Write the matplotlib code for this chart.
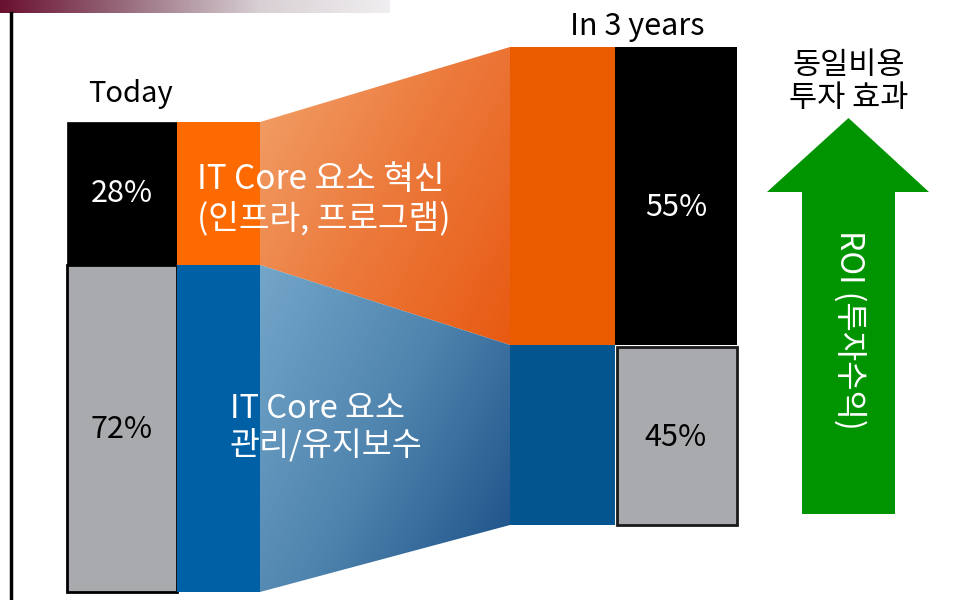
import numpy as np
import matplotlib
matplotlib.use("Agg")
import matplotlib.pyplot as plt
from matplotlib.patches import Polygon
from matplotlib.colors import LinearSegmentedColormap

plt.rcParams['font.family'] = ['Noto Sans CJK KR', 'DejaVu Sans']

# ---- data ----
periods = ["Today", "In 3 years"]
share_labels_today = ["28%", "72%"]      # innovation / maintenance share today
share_labels_future = ["55%", "45%"]     # innovation / maintenance share in 3 years
# segment heights as drawn in the reference (pixel units, top segment first)
today_heights = [143, 327]
future_heights = [298, 180]
today_base = 8        # distance of today's bar bottom from figure bottom
future_base = 75
innovation_label = "IT Core 요소 혁신\n(인프라, 프로그램)"
maintenance_label = "IT Core 요소\n관리/유지보수"
arrow_title = "동일비용\n투자 효과"
arrow_label = "ROI (투자수익)"

W, H = 956, 600
fig = plt.figure(figsize=(W / 100, H / 100), dpi=100)
ax = fig.add_axes([0, 0, 1, 1])
ax.set_xlim(0, W)
ax.set_ylim(0, H)
ax.axis('off')

FS = 22

# top banner gradient
grad = np.linspace(0, 1, 400).reshape(1, -1)
banner_cmap = LinearSegmentedColormap.from_list("b", ["#6a1030", "#9a7080", "#d8d0d4", "#f0eef0"])
ax.imshow(grad, extent=[0, 390, H - 13, H], aspect='auto', cmap=banner_cmap, zorder=1)
# left vertical rule
ax.plot([11, 11], [0, H - 13], color='black', lw=2.5, zorder=2)

# bar x positions (left edge, width)
bx_today_grey = (67, 110)
bx_today_col = (177, 83)
bx_fut_col = (510, 105)
bx_fut_grey = (615, 122)

# today bars
t_mid = today_base + today_heights[1]
t_top = t_mid + today_heights[0]
ax.bar(bx_today_grey[0], today_heights[1], width=bx_today_grey[1], bottom=today_base, align='edge',
       color='#a9aaae', edgecolor='black', lw=2, zorder=3)
ax.bar(bx_today_grey[0], today_heights[0], width=bx_today_grey[1], bottom=t_mid, align='edge',
       color='black', edgecolor='black', lw=0.5, zorder=3)
ax.bar(bx_today_col[0], today_heights[1], width=bx_today_col[1], bottom=today_base, align='edge',
       color='#0060a6', lw=0, zorder=3)
ax.bar(bx_today_col[0], today_heights[0], width=bx_today_col[1], bottom=t_mid, align='edge',
       color='#fd6a02', lw=0, zorder=3)

# future bars
f_mid = future_base + future_heights[1]
f_top = f_mid + future_heights[0]
ax.bar(bx_fut_col[0], future_heights[1], width=bx_fut_col[1], bottom=future_base, align='edge',
       color='#02558e', lw=0, zorder=3)
ax.bar(bx_fut_col[0], future_heights[0], width=bx_fut_col[1], bottom=f_mid, align='edge',
       color='#ea5b00', lw=0, zorder=3)
ax.bar(bx_fut_grey[0] + 2, future_heights[1] - 2, width=bx_fut_grey[1] - 2, bottom=future_base, align='edge',
       color='#a9aaae', edgecolor='#1a1a1a', lw=2, zorder=3)
ax.bar(bx_fut_grey[0], future_heights[0], width=bx_fut_grey[1], bottom=f_mid, align='edge',
       color='black', lw=0, zorder=3)

# gradient trapezoids (light at top-left, dark at bottom-right)
xl = bx_today_col[0] + bx_today_col[1]
xr = bx_fut_col[0]
yy, xx = np.mgrid[0:1:200j, 0:1:200j]
g = xx * 0.6 + yy * 0.4
orange_cmap = LinearSegmentedColormap.from_list("o", ["#f2a36c", "#ec7a3c", "#e85a12"])
blue_cmap = LinearSegmentedColormap.from_list("bl", ["#74a6c9", "#4f84ae", "#1a4e86"])

top_poly = Polygon([[xl, t_top], [xr, f_top], [xr, f_mid], [xl, t_mid]], closed=True,
                   facecolor='none', edgecolor='none', transform=ax.transData)
ax.add_patch(top_poly)
im1 = ax.imshow(g, extent=[xl, xr, min(t_mid, f_mid), max(t_top, f_top)], origin='upper',
                cmap=orange_cmap, aspect='auto', zorder=2.5)
im1.set_clip_path(top_poly)

bot_poly = Polygon([[xl, t_mid], [xr, f_mid], [xr, future_base], [xl, today_base]], closed=True,
                   facecolor='none', edgecolor='none', transform=ax.transData)
ax.add_patch(bot_poly)
im2 = ax.imshow(g, extent=[xl, xr, today_base, max(t_mid, f_mid)], origin='upper',
                cmap=blue_cmap, aspect='auto', zorder=2.5)
im2.set_clip_path(bot_poly)

# labels
ax.text(131, H - 94, periods[0], ha='center', va='center', fontsize=FS - 1, color='black', zorder=5)
ax.text(637, H - 27, periods[1], ha='center', va='center', fontsize=FS, color='black', zorder=5)
ax.text(122, H - 193, share_labels_today[0], ha='center', va='center', fontsize=FS, color='white', zorder=5)
ax.text(122, H - 430, share_labels_today[1], ha='center', va='center', fontsize=FS, color='black', zorder=5)
ax.text(676, H - 207, share_labels_future[0], ha='center', va='center', fontsize=FS, color='white', zorder=5)
ax.text(676, H - 437, share_labels_future[1], ha='center', va='center', fontsize=FS, color='black', zorder=5)
ax.text(197, H - 199, innovation_label, ha='left', va='center', fontsize=FS + 2, color='white',
        linespacing=1.15, zorder=5)
ax.text(230, H - 427, maintenance_label, ha='left', va='center', fontsize=FS + 1.5, color='white',
        linespacing=1.1, zorder=5)

# green arrow
shaft_x0, shaft_x1 = 802, 895
shaft_bottom = H - 514
head_base = H - 192
tip = H - 118
cx = (shaft_x0 + shaft_x1) / 2
arrow = Polygon([[shaft_x0, shaft_bottom], [shaft_x1, shaft_bottom], [shaft_x1, head_base],
                 [929, head_base], [cx, tip], [767, head_base], [shaft_x0, head_base]],
                closed=True, facecolor='#009400', edgecolor='none', zorder=3)
ax.add_patch(arrow)
ax.text(cx, H - 82, arrow_title, ha='center', va='center', fontsize=FS, color='black',
        linespacing=1.1, zorder=5)
ax.text(cx + 1, H - 330, arrow_label, ha='center', va='center', fontsize=FS + 1, color='white',
        rotation=-90, zorder=5)

fig.savefig("out.png", dpi=100)
